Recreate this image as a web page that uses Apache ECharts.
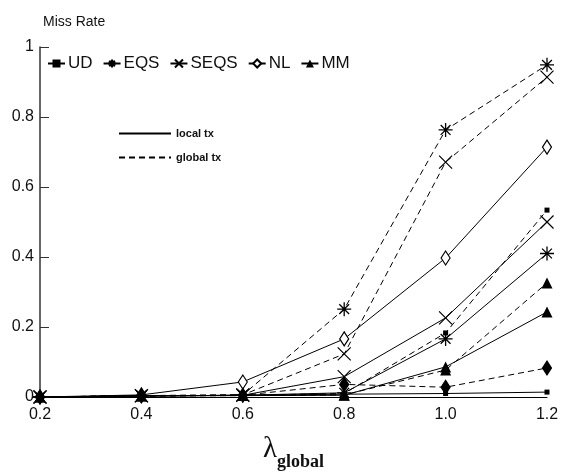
<!DOCTYPE html>
<html><head><meta charset="utf-8">
<script src="https://cdn.jsdelivr.net/npm/echarts@6/dist/echarts.min.js"></script>
<style>html,body{margin:0;padding:0;background:#fff}#c{width:568px;height:472px}</style>
</head><body><div id="c"></div>
<script>
const categories = ['0.2','0.4','0.6','0.8','1.0','1.2'];
const yTicks = [0, 0.2, 0.4, 0.6, 0.8, 1];
const udLocal   = [0, 0.003, 0.005, 0.008, 0.010, 0.014];
const udGlobal  = [0, 0.003, 0.005, 0.010, 0.183, 0.534];
const eqsLocal  = [0, 0.003, 0.005, 0.012, 0.166, 0.410];
const eqsGlobal = [0, 0.004, 0.006, 0.251, 0.763, 0.949];
const seqsLocal = [0, 0.003, 0.005, 0.058, 0.226, 0.500];
const seqsGlobal= [0, 0.004, 0.006, 0.123, 0.671, 0.914];
const nlLocal   = [0, 0.006, 0.043, 0.166, 0.397, 0.714];
const nlGlobal  = [0, 0.003, 0.005, 0.036, 0.028, 0.083];
const mmLocal   = [0, 0.003, 0.004, 0.005, 0.086, 0.243];
const mmGlobal  = [0, 0.003, 0.004, 0.006, 0.077, 0.326];

const ASTER = 'path://M0,-1L0,1M-1,0L1,0M-0.7,-0.7L0.7,0.7M-0.7,0.7L0.7,-0.7';
const XMARK = 'path://M-1,-1L1,1M-1,1L1,-1';
const sym = {
  UD:   {symbol:'rect', symbolSize:5, itemStyle:{color:'#000'}},
  EQS:  {symbol:ASTER, symbolSize:14, itemStyle:{color:'#000', borderColor:'#000', borderWidth:1.3}},
  SEQS: {symbol:XMARK, symbolSize:13, itemStyle:{color:'#000', borderColor:'#000', borderWidth:1.2}},
  NL:   {symbol:'diamond', symbolSize:[9,14], itemStyle:{color:'#fff', borderColor:'#000', borderWidth:1.2}},
  MM:   {symbol:'triangle', symbolSize:11, itemStyle:{color:'#000'}}
};
function mk(name, data, key, dashed, fillOverride){
  const s = sym[key];
  const it = Object.assign({}, s.itemStyle);
  if (fillOverride) it.color = fillOverride;
  return {
    name, type:'line', data, symbol:s.symbol, symbolSize:s.symbolSize,
    showAllSymbol:true, itemStyle:it, animation:false, z: 3,
    lineStyle:{color:'#000', width:1, type: dashed ? [6,4] : 'solid'}
  };
}
const series = [
  mk('UD', udLocal, 'UD', false),
  mk('EQS', eqsLocal, 'EQS', false),
  mk('SEQS', seqsLocal, 'SEQS', false),
  mk('NL', nlLocal, 'NL', false),
  mk('MM', mmLocal, 'MM', false),
  mk('UD global', udGlobal, 'UD', true),
  mk('EQS global', eqsGlobal, 'EQS', true),
  mk('SEQS global', seqsGlobal, 'SEQS', true),
  mk('NL global', nlGlobal, 'NL', true, '#000'),
  mk('MM global', mmGlobal, 'MM', true),
  {name:'local tx', type:'line', data:[], symbol:'none', itemStyle:{color:'#000', opacity:0}, lineStyle:{color:'#000', width:1, type:'solid'}},
  {name:'global tx', type:'line', data:[], symbol:'none', itemStyle:{color:'#000', opacity:0}, lineStyle:{color:'#000', width:1, type:[6,4]}}
];
const chart = echarts.init(document.getElementById('c'));
chart.setOption({
  backgroundColor:'#fff',
  animation:false,
  title:{text:'Miss Rate', left:38, top:10, textStyle:{fontFamily:'Liberation Sans, Arial, sans-serif', fontSize:14, fontWeight:'normal', color:'#111'}},
  legend:[
    {data:['UD','EQS','SEQS','NL','MM'], left:42, top:50, itemWidth:17, itemHeight:10, itemGap:10,
     textStyle:{fontFamily:'Liberation Sans, Arial, sans-serif', fontSize:17, color:'#111', padding:[0,0,0,-2]}},
    {data:['local tx','global tx'], orient:'vertical', left:113, top:123, itemWidth:52, itemHeight:8, itemGap:13,
     itemStyle:{opacity:0},
     textStyle:{fontFamily:'Liberation Sans, Arial, sans-serif', fontSize:11, fontWeight:'bold', color:'#111'}}
  ],
  grid:{left:40, right:21, top:47, bottom:75, containLabel:false, outerBoundsMode:'none'},
  xAxis:{type:'category', data:categories, boundaryGap:false,
    axisLine:{show:true, lineStyle:{color:'#000', width:1}},
    axisTick:{show:false},
    axisLabel:{margin:10, fontFamily:'Liberation Sans, Arial, sans-serif', fontSize:16, color:'#111'},
    splitLine:{show:false},
    name:'{l|λ}{s|global}', nameLocation:'middle', nameGap:38,
    nameTextStyle:{rich:{l:{fontFamily:'Liberation Serif, Times New Roman, serif', fontSize:29, color:'#111', verticalAlign:'bottom'},
                         s:{fontFamily:'Liberation Serif, Times New Roman, serif', fontSize:18, fontWeight:'bold', color:'#111', verticalAlign:'bottom', padding:[0,0,-7,0]}}}
  },
  yAxis:{type:'value', min:0, max:1, interval:0.2,
    axisLine:{show:true, lineStyle:{color:'#333', width:1.5}},
    axisTick:{show:true, inside:true, length:9, lineStyle:{color:'#333'}},
    axisLabel:{margin:6, fontFamily:'Liberation Sans, Arial, sans-serif', fontSize:16, color:'#111',
      formatter: v => String(yTicks.find(t => Math.abs(t - v) < 1e-9) ?? v)},
    splitLine:{show:false}
  },
  series
});
</script></body></html>
